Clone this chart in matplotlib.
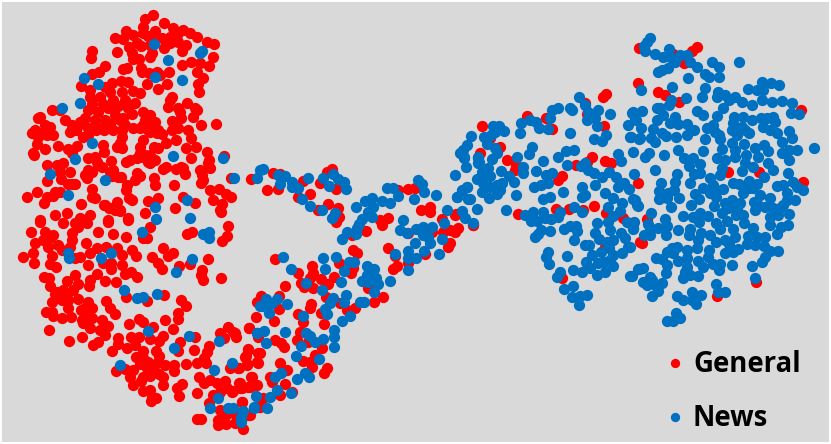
import numpy as np
from matplotlib import pyplot as plt

# points, x and y in image pixels (y runs down)
general_top = [
    (153,15),(145,19),(164,23),(143,27),(173,28),(126,31),(143,33),(155,31),(183,30),(190,33),(115,38),(123,39),
    (133,35),(137,43),(148,36),(162,38),(170,37),(177,35),(197,37),(207,42),(214,44),(129,47),(141,46),(164,48),
    (170,43),(186,45),(182,51),(117,52),(92,51),(91,58),(132,53),(152,53),(150,57),(133,59),(139,59),(213,57),
    (191,62),(200,63),(209,66),(182,65),(105,66),(123,69),(127,68),(141,68),(142,72),(99,72),(92,74),(169,72),
    (197,72),(149,73),(160,75),(203,78),(198,84),(147,84),(167,84),(158,89),(199,92),(81,86),(112,83),(121,81),
    (128,82),(105,87),(90,90),(155,38),(178,42),(150,45),(157,72),
    (90,97),(100,97),(110,92),(122,92),(133,91),(140,93),(92,104),(103,104),(113,100),(125,100),(135,103),(88,110),
    (98,112),(108,108),(118,106),(128,108),(143,112),(85,118),(95,120),(105,120),(115,115),(123,118),(132,114),
    (88,128),(98,128),(110,124),(120,120),(125,125),(88,135),(96,130),(104,130),(113,130),(122,130),
    (52,110),(60,110),(40,117),(38,118),(45,125),(65,120),(72,125),(80,122),(70,132),(76,130),(50,127),(47,135),
    (53,135),(35,130),(32,133),(38,137),(42,133),(77,127),
    (172,97),(168,107),(170,100),(180,112),(187,103),(195,108),(197,110),(178,108),(193,117),(201,125),(216,124),
    (172,121),(181,118),(172,130),(178,128),(188,130),(191,138),(176,140),(186,148),(166,143),(196,147),(207,152),
    (191,158),(150,115),(145,120),(152,125),(158,130),(148,130),(140,128),(133,128),(155,122),(143,125),(162,134),
    (150,132),(157,133),(143,140),(140,147),(122,137),(120,143),(117,147),(122,148),(103,145),(104,152),(58,146),
    (37,144),(45,149),(33,153),(34,155),(68,149),(72,153),(77,146),(83,137),(88,158),(95,157),(98,165),(88,170),
    (97,162),(102,167),(111,161),(113,170),(112,176),(118,177),(110,172),(121,177),(85,175),(92,172),(87,178),
    (47,165),(57,165),(63,163),(60,172),(70,172),(47,181),(61,179),(68,184),(75,184),(72,184),(92,189),(92,197),
    (95,198),(37,192),(27,197),(47,197),(44,203),(55,192),(60,192),(53,196),(81,204),(104,205),(109,208),(115,210),
    (120,210),(127,185),(126,190),(135,180),(137,173),(140,176),(148,162),(150,155),(140,153),(145,155),(137,158),
    (126,162),(130,160),(143,157),(155,160),(154,147),(158,148),(150,163),(154,178),(155,185),(174,185),(163,169),
    (166,167),(181,167),(183,168),(176,169),(185,174),(200,170),(203,180),(208,163),(209,160),(210,168),(202,175),
    (201,183),(224,156),(210,190),(219,189),(226,194),(231,197),(213,200),(222,204),(220,210),(221,212),(183,197),
    (195,203),(175,208),(129,198),(132,200),(148,201),(117,202),(158,198),(231,178),(251,179),
    (55,215),(67,213),(40,220),(80,218),(90,215),(108,220),(128,218),(105,205),(112,208),(120,211),(145,213),
]
general_bottom = [
    (31,232),(40,222),(63,223),(75,223),(87,223),(108,222),(128,220),(98,232),(113,234),(126,237),(150,227),(143,238),
    (147,238),(45,232),(53,235),(35,243),(43,240),(50,238),(48,247),(58,245),(72,240),(70,247),(33,253),(23,257),
    (34,263),(52,256),(50,264),(56,267),(62,250),(86,243),(97,248),(106,247),(117,248),(90,253),(80,257),(75,258),
    (88,265),(103,263),(111,263),(111,269),(122,265),(122,255),(132,250),(136,256),(97,274),(75,275),(67,281),(44,277),
    (49,278),(50,286),(63,290),(55,294),(78,284),(90,280),(89,286),(105,281),(116,282),(125,274),(131,272),(137,277),
    (73,290),(67,298),(62,300),(52,302),(78,299),(88,302),(81,310),(68,308),(92,308),(106,301),(110,308),(115,314),
    (46,312),(52,312),(53,316),(62,318),(71,317),(82,320),(92,318),(102,320),(108,326),(90,328),(100,330),(105,335),
    (49,330),(69,341),(82,337),(93,345),(98,342),(126,297),(147,301),(164,295),(181,300),(186,306),(178,313),(178,319),
    (165,320),(129,324),(139,319),(143,322),(153,327),(173,329),(163,336),(159,341),(139,337),(131,337),(135,345),
    (118,338),(118,344),(127,348),(112,351),(150,339),(195,337),(180,342),(178,351),(194,350),(209,346),(207,352),
    (220,333),(224,338),(228,327),(233,332),(236,337),(249,328),(248,349),(246,356),(204,358),(197,363),(206,363),
    (186,364),(230,368),(239,368),(247,364),(257,362),(258,353),(251,377),(143,351),(156,351),(159,356),(136,357),
    (143,358),(140,364),(148,362),(157,363),(165,365),(174,365),(174,371),(133,370),(125,369),(116,371),(147,368),
    (153,369),(159,374),(163,377),(143,377),(141,381),(150,376),(130,377),(133,385),(163,385),(182,384),(177,388),
    (179,396),(143,391),(150,390),(152,397),(151,401),(156,398),(199,377),(204,383),(210,380),(217,383),(225,381),
    (227,388),(232,392),(239,383),(242,388),(250,387),(257,385),(197,393),(213,395),(220,392),(209,403),(197,419),
    (201,419),(242,402),(250,415),(220,410),(222,417),(227,414),(218,420),(218,425),(226,424),(235,423),(243,429),
    (258,407),
    (163,248),(173,253),(168,256),(152,257),(158,263),(162,269),(179,266),(190,264),(208,259),(202,270),(201,275),
    (203,280),(221,278),(187,234),(192,232),(222,241),(227,236),(228,226),(57,292),(62,298),(68,300),(85,308),(88,315),
    (83,323),(72,233),(78,227),
]
general_middle = [
    (273,173),(280,174),(303,181),(267,190),(278,189),(310,194),(298,197),(320,183),(327,172),(332,169),(336,189),
    (328,204),(318,210),(338,208),(339,217),(336,222),(398,190),(408,189),(415,188),(421,210),(430,207),(430,212),
    (380,220),(388,218),(382,225),(366,231),(352,235),(442,219),(456,214),(443,232),(450,230),(458,228),(455,232),
    (450,243),(448,247),(473,225),(432,232),(408,233),(388,248),(353,250),(357,253),(395,256),(425,254),(408,263),
    (397,266),(393,269),(275,259),(339,263),(353,268),(351,273),(312,266),(298,273),(313,273),(310,278),(321,279),
    (328,284),(334,277),(301,283),(304,287),(313,288),(285,286),(326,297),(368,288),(383,297),(374,302),(355,308),
    (340,303),(347,310),(311,304),(310,308),(321,313),(298,314),(303,322),(324,324),(279,309),(261,296),(257,302),
    (279,296),(256,317),(274,321),(249,328),(258,337),(275,340),(281,343),(284,347),(300,332),(297,340),(308,342),
    (322,348),(315,355),(303,361),(312,367),(310,362),(327,368),(324,373),(248,350),(245,357),(260,353),(258,363),
    (247,365),(238,368),(280,363),(287,370),(270,377),(272,382),(285,384),(292,392),(280,395),(252,377),(240,383),
    (240,388),(248,387),(254,385),(233,391),(263,398),(242,402),(260,407),(248,415),(237,417),(235,333),
]
general_right = [
    (482,126),(480,153),(500,147),(490,138),(507,160),(516,165),(515,170),(527,116),(546,118),(552,129),(518,214),
    (556,209),(569,209),(583,210),(594,206),(606,213),(576,165),(587,162),(592,157),(605,161),(611,163),(562,176),
    (558,180),(585,103),(587,114),(603,97),(606,94),(604,126),(639,48),(638,83),(638,183),(640,242),(605,247),
    (562,278),(623,218),(473,225),(455,215),(673,54),(684,63),(692,51),(697,47),(658,92),(665,95),(679,102),(801,110),
    (728,172),(759,172),(803,182),(647,219),(642,243),(756,282),(717,296),
]
news_left = [
    (154,44),(200,53),(202,51),(168,60),(155,77),(182,80),(84,78),(98,84),(80,103),(62,108),(92,143),(75,159),(50,174),
    (105,180),(173,156),(223,158),(234,178),(257,178),(260,170),(68,195),(187,200),(155,207),(156,219),(190,218),
    (142,232),(203,234),(209,232),(209,238),(68,253),(69,258),(101,258),(111,253),(192,259),(176,272),(124,290),
    (137,298),(143,297),(157,294),(148,331),(189,336),(219,341),(174,348),(120,365),(232,363),(214,370),(257,333),
    (256,396),(218,398),(210,408),(228,408),(233,408),(254,408),(243,411),(241,417),(241,422),(260,306),
]
news_middle = [
    (263,169),(278,175),(285,176),(280,184),(292,182),(292,187),(298,188),(308,178),(302,199),(310,206),(323,178),
    (333,174),(338,179),(329,186),(344,182),(346,189),(322,210),(335,213),(332,218),(356,207),(365,201),(372,198),
    (382,201),(390,203),(373,207),(368,212),(372,217),(362,219),(359,224),(357,228),(347,232),(356,234),(342,239),
    (387,188),(393,188),(398,196),(414,199),(418,180),(422,184),(424,192),(436,195),(455,175),(457,197),(462,190),
    (467,187),(468,199),(447,210),(462,211),(465,218),(477,209),(473,223),(444,223),(403,220),(400,230),(407,233),
    (416,229),(415,243),(423,227),(432,227),(423,235),(428,237),(430,243),(424,251),(442,239),(408,251),(408,258),
    (416,258),(395,254),(439,254),(408,270),(323,258),(336,257),(283,257),(349,262),(354,262),(325,269),(344,271),
    (291,269),(367,266),(374,269),(367,275),(362,281),(368,282),(376,278),(378,284),(390,281),(374,292),(341,282),
    (306,283),(322,290),(346,295),(344,302),(333,298),(330,303),(325,309),(327,314),(360,302),(364,302),(350,316),
    (342,321),(303,316),(287,304),(277,299),(266,299),(272,303),(263,306),(269,313),(257,333),(264,331),(285,332),
    (266,343),(306,333),(310,336),(315,342),(323,339),(334,330),(334,337),(334,347),(301,346),(296,356),(319,359),
    (305,373),(309,377),(297,379),(281,373),(275,377),(291,393),(277,390),(270,397),(254,407),(267,408),
]
news_center = [
    (460,153),(464,158),(466,167),(478,158),(478,163),(480,178),(471,136),(467,145),(463,150),(464,157),(478,157),
    (479,162),(484,137),(487,144),(492,159),(495,148),(497,153),(493,126),(499,126),(495,132),(504,131),(491,135),
    (488,168),(482,172),(490,176),(477,179),(483,183),(501,171),(509,176),(514,182),(502,183),(497,185),(490,187),
    (500,190),(482,192),(489,198),(497,194),(467,187),(462,191),(457,197),(470,199),(506,210),(516,195),(517,157),
    (523,167),(523,173),(529,154),(532,147),(543,161),(536,171),(520,133),(521,123),(530,120),(536,122),(539,128),
    (548,129),(550,118),(552,110),(558,108),(570,108),(572,110),(579,97),(585,105),(588,112),(598,110),(595,118),
    (587,120),(597,126),(610,114),(570,133),(594,139),(602,141),(606,135),(558,157),(566,151),(574,150),(567,165),
    (581,166),(585,163),(588,170),(594,173),(602,177),(609,172),(616,177),(618,154),(621,161),(633,152),(628,125),
    (632,113),(635,118),(630,137),(634,174),(640,138),(546,175),(552,173),(548,183),(541,185),(534,187),(563,192),
    (582,187),(595,185),(585,195),(582,197),(550,197),(543,199),(605,193),(613,198),(622,203),(618,187),(624,183),
    (629,189),(633,199),(637,205),(608,207),(574,207),(582,212),(560,212),(558,217),(525,215),(533,212),(531,221),
    (537,221),(543,212),(545,218),(551,219),(541,230),(538,234),(535,237),(550,231),(564,229),(570,226),(576,226),
    (577,231),(574,240),(597,223),(595,233),(599,239),(610,230),(608,222),(613,216),(620,211),(627,222),(633,228),
    (621,233),(625,238),(628,247),(622,253),(585,245),(589,245),(613,240),(607,242),(609,248),(601,252),(592,255),
    (586,262),(613,255),(610,260),(613,266),(605,272),(597,275),(590,268),(598,263),(604,262),(582,272),(573,270),
    (567,256),(548,252),(546,257),(549,264),(560,272),(557,277),(573,286),(564,289),(572,297),(580,296),(587,295),
    (579,305),(630,276),(638,269),
]
news_right = [
    (650,38),(647,42),(644,46),(645,51),(655,54),(663,57),(669,49),(670,57),(680,55),(687,55),(675,62),(668,68),
    (662,70),(658,72),(690,62),(697,67),(712,62),(719,67),(739,62),(688,78),(705,74),(709,77),(719,77),(672,87),
    (641,90),(705,88),(702,97),(686,98),(718,92),(717,97),(725,95),(735,97),(671,100),(669,105),(657,108),(660,108),
    (642,111),(633,112),(636,120),(657,120),(663,115),(675,117),(670,123),(678,124),(687,124),(697,111),(703,115),
    (717,116),(723,108),(729,100),(742,102),(752,105),(748,89),(757,90),(762,82),(763,90),(771,83),(779,85),(762,100),
    (772,102),(782,101),(792,103),(791,113),(799,114),(734,117),(743,117),(752,120),(761,118),(773,117),(767,118),
    (775,122),(763,127),(770,130),(789,131),(792,138),(777,133),(782,142),(733,123),(732,130),(742,127),(745,130),
    (749,133),(737,135),(713,125),(707,128),(715,132),(719,135),(720,139),(694,130),(687,135),(705,139),(676,137),
    (653,129),(641,128),(662,133),(666,136),(651,138),(655,142),(639,139),(631,137),(732,143),(744,144),(764,145),
    (755,148),(768,151),(782,153),(789,150),(797,150),(814,148),(789,160),(678,150),(703,151),(722,149),(735,150),
    (735,157),(664,155),(649,153),(645,157),(684,158),(693,158),(689,166),(700,164),(700,173),(694,174),(717,158),
    (725,160),(722,168),(720,175),(746,155),(758,157),(745,163),(753,167),(742,171),(768,163),(773,170),(764,177),
    (788,173),(655,170),(677,174),(675,182),(690,183),(661,183),(710,178),(713,185),(733,183),(739,184),(749,181),
    (757,184),(749,188),(777,186),(783,185),(793,182),(797,187),(803,190),(703,188),(723,189),(716,190),(710,193),
    (695,194),(674,190),(668,193),(659,191),(659,199),(667,198),(679,198),(671,207),(699,199),(716,197),(743,193),
    (760,195),(753,188),(770,198),(787,193),(787,200),(795,200),(783,205),(635,200),(638,206),(691,205),(714,206),
    (725,203),(732,200),(740,203),(737,208),(728,208),(754,202),(758,205),(765,207),(755,210),(773,208),(780,208),
    (651,213),(683,216),(693,217),(700,213),(708,216),(722,213),(736,215),(743,215),(770,217),(778,215),(789,214),
    (665,219),(699,222),(727,221),(744,223),(716,223),(770,225),(781,227),(788,225),(777,234),(648,224),(634,222),
    (633,229),(658,228),(667,226),(650,228),(678,230),(690,229),(720,229),(733,229),(753,228),(644,235),(650,235),
    (666,235),(689,235),(701,233),(710,235),(735,237),(748,236),(757,237),(765,237),(698,240),(716,242),(725,240),
    (747,244),(755,245),(764,246),(630,247),(672,248),(677,247),(687,250),(697,248),(709,250),(729,244),(738,249),
    (733,252),(725,253),(770,251),(778,251),(667,252),(673,253),(687,258),(708,257),(765,257),(656,258),(662,259),
    (678,261),(698,261),(762,262),(667,265),(687,267),(703,267),(713,264),(720,264),(719,270),(732,265),(752,266),
    (643,268),(639,269),(632,276),(666,273),(650,277),(685,272),(683,278),(690,275),(698,276),(755,278),(643,282),
    (652,280),(662,283),(647,285),(655,285),(658,291),(652,296),(716,284),(718,292),(725,292),(677,296),(683,300),
    (692,292),(701,295),(692,300),(696,304),(676,313),(680,318),(673,321),(667,321),
]
legend_labels = ["General", "News"]
legend_colors = ["#FF0000", "#0070C0"]

general = np.array(general_top + general_bottom + general_middle + general_right)
news = np.array(news_left + news_middle + news_center + news_right)

fig = plt.figure(figsize=(8.31, 4.44), dpi=100)
ax = fig.add_axes([2 / 831, 2 / 444, 827 / 831, 440 / 444])
ax.set_facecolor("#D9D9D9")
ax.set_xlim(2, 829)
ax.set_ylim(442, 2)
ax.set_xticks([])
ax.set_yticks([])
for side in ax.spines.values():
    side.set_visible(False)

ax.scatter(general[:, 0], general[:, 1], s=66, color=legend_colors[0], linewidths=0)
ax.scatter(news[:, 0], news[:, 1], s=66, color=legend_colors[1], linewidths=0)

# legend by hand, it sits inside the plot without a frame
for y, label, color in zip([363, 417], legend_labels, legend_colors):
    ax.scatter([675], [y], s=45, color=color, linewidths=0)
    ax.text(693, y + 9, label, fontsize=19.8, fontweight="bold", family="Open Sans",
            color="black", va="baseline", ha="left")

fig.savefig("out.png", dpi=100, facecolor="white")
